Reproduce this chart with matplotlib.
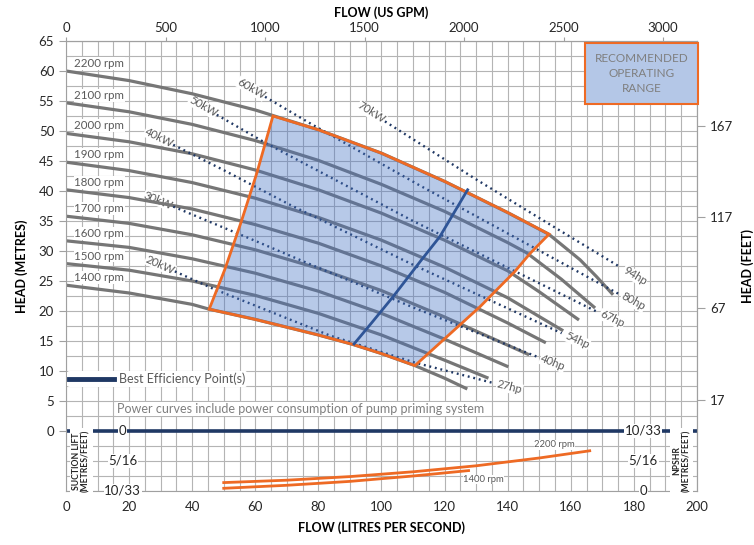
import matplotlib.pyplot as plt
import numpy as np
from matplotlib.lines import Line2D

plt.rcParams['font.family'] = ['Lato', 'DejaVu Sans']

# pump curves: flow (l/s) against head (m), one pair per speed
rpm_labels = ['2200 rpm', '2100 rpm', '2000 rpm', '1900 rpm', '1800 rpm',
              '1700 rpm', '1600 rpm', '1500 rpm', '1400 rpm']
q_2200 = [0, 20, 40, 60, 80, 100, 120, 140, 153, 160, 163, 168.2, 173.4]
h_2200 = [60.0, 58.4, 56.2, 53.5, 50.2, 46.3, 41.6, 36.4, 32.8, 29.8, 28.5, 25.7, 22.7]
q_2100 = [0, 20, 40, 60, 80, 100, 120, 140, 146, 157, 167.7]
h_2100 = [54.7, 53.2, 51.1, 48.4, 45.1, 41.1, 36.6, 31.4, 29.7, 25.3, 20.5]
q_2000 = [0, 20, 40, 60, 80, 100, 120, 140, 150, 162.6]
h_2000 = [49.6, 48.2, 46.2, 43.5, 40.2, 36.3, 31.8, 26.7, 23.2, 18.5]
q_1900 = [0, 20, 40, 60, 80, 100, 120, 140, 157.6]
h_1900 = [44.8, 43.4, 41.4, 38.8, 35.6, 31.8, 27.3, 22.2, 16.7]
q_1800 = [0, 20, 40, 60, 80, 100, 120, 140, 152.1]
h_1800 = [40.2, 38.9, 37.0, 34.4, 31.3, 27.5, 23.1, 18.0, 14.7]
q_1700 = [0, 20, 40, 60, 80, 100, 120, 140, 146.8]
h_1700 = [35.8, 34.6, 32.7, 30.2, 27.1, 23.4, 19.0, 14.3, 12.7]
q_1600 = [0, 20, 40, 60, 80, 100, 120, 140.2]
h_1600 = [31.7, 30.6, 28.7, 26.3, 23.3, 19.6, 15.3, 10.7]
q_1500 = [0, 20, 40, 60, 80, 100, 120, 133.9]
h_1500 = [27.9, 26.8, 25.0, 22.6, 19.6, 16.0, 11.8, 8.8]
q_1400 = [0, 20, 40, 45.4, 60, 80, 91.1, 100, 110.6, 120, 127.2]
h_1400 = [24.3, 23.0, 21.1, 20.3, 18.6, 16.0, 14.4, 12.9, 10.9, 8.8, 7.0]

pump_q = [q_2200, q_2100, q_2000, q_1900, q_1800, q_1700, q_1600, q_1500, q_1400]
pump_h = [h_2200, h_2100, h_2000, h_1900, h_1800, h_1700, h_1600, h_1500, h_1400]

# recommended operating range outline
range_q = [65.6, 80, 100, 120, 140, 153.1, 147.1, 142.3, 131.2, 120.7, 110.6,
           100, 91.1, 80, 60, 45.4, 50.4, 55.5, 60.5]
range_h = [52.5, 50.2, 46.3, 41.6, 36.4, 32.8, 29.6, 26.6, 20.7, 15.7, 10.9,
           12.9, 14.4, 16.0, 18.6, 20.3, 27.0, 34.8, 43.0]

# best efficiency points
bep_q = [91.3, 97.0, 103.7, 112.2, 118.5, 127.3]
bep_h = [14.5, 18.1, 22.4, 28.2, 32.4, 40.2]

# constant power lines
kw_labels = ['20kW', '30kW', '40kW', '50kW', '60kW', '70kW']
hp_labels = ['27hp', '40hp', '54hp', '67hp', '80hp', '94hp']
p20_q = [34.5, 46.7, 83.7, 110.6, 135.4]
p20_h = [26.6, 23.7, 15.9, 11.4, 8.0]
p30_q = [34.0, 60.4, 74.2, 110, 149.2]
p30_h = [37.4, 31.6, 28.5, 20.6, 12.4]
p40_q = [34.0, 49.9, 71, 110, 157.1]
p40_h = [47.7, 43.5, 37.7, 27.7, 16.3]
p50_q = [47.8, 63.6, 110, 168.2]
p50_h = [52.7, 47.9, 35.0, 19.9]
p60_q = [63.1, 77.3, 112.2, 145, 175.0]
p60_h = [55.7, 51.3, 40.9, 31.5, 22.9]
p70_q = [101.1, 130.1, 150, 175.7]
p70_h = [51.6, 41.9, 35.5, 27.3]
power_q = [p20_q, p30_q, p40_q, p50_q, p60_q, p70_q]
power_h = [p20_h, p30_h, p40_h, p50_h, p60_h, p70_h]

# NPSHR (m)
npsh_labels = ['2200 rpm', '1400 rpm']
npsh_q_2200 = [50, 70, 90, 110, 130, 150, 166]
npsh_2200 = [1.4, 1.8, 2.4, 3.2, 4.2, 5.5, 6.7]
npsh_q_1400 = [50, 70, 90, 110, 127.6]
npsh_1400 = [0.45, 0.95, 1.6, 2.5, 3.4]

lift_ticks = ['0', '5/16', '10/33']
npsh_ticks = ['10/33', '5/16', '0']

GRAY = '#767676'
NAVY = '#203864'
ORANGE = '#EE6A24'
TXT = '#595959'
LOWER = -10  # bottom of the suction/NPSHR band, NPSHR zero

fig = plt.figure(figsize=(7.54, 5.45), dpi=100)
ax = fig.add_axes([0.0875, 0.0991, 0.8369, 0.8257])
ax.set_xlim(0, 200)
ax.set_ylim(LOWER, 65)
ax.set_xticks(np.arange(0, 201, 20))
ax.set_xticks(np.arange(0, 201, 5), minor=True)
ax.set_yticks(np.arange(0, 66, 5))
ax.set_yticks(np.arange(-10, 65.1, 2.5), minor=True)
ax.grid(which='both', color='#B4B4B4', lw=0.8)
ax.set_axisbelow(True)
ax.tick_params(which='minor', length=0)
ax.tick_params(axis='x', length=0, pad=7, labelsize=9.5, colors='#262626')
ax.tick_params(axis='y', length=5, labelsize=9.5, colors='#262626', color='#A0A0A0')
for sp in ax.spines.values():
	sp.set_color('#A0A0A0')
ax.set_xlabel('FLOW (LITRES PER SECOND)', fontweight='bold', fontsize=9, labelpad=6)
ax.set_ylabel('HEAD (METRES)', fontweight='bold', fontsize=9, labelpad=8)

top = ax.secondary_xaxis('top', functions=(lambda q: q * 15.8503, lambda g: g / 15.8503))
top.set_xticks(np.arange(0, 3001, 500))
top.tick_params(length=3, labelsize=9.5, colors='#262626', color='#A0A0A0', pad=2)
top.set_xlabel('FLOW (US GPM)', fontweight='bold', fontsize=9, labelpad=4)
top.spines['top'].set_color('#A0A0A0')

right = ax.secondary_yaxis('right', functions=(lambda m: m * 3.28084, lambda f: f / 3.28084))
right.set_yticks([17, 67, 117, 167])
right.tick_params(length=6, labelsize=9.5, colors='#262626', color='#A0A0A0')
right.set_ylabel('HEAD (FEET)', fontweight='bold', fontsize=9, labelpad=6)
right.spines['right'].set_color('#A0A0A0')


def angle(q, h, i, j):
	p0 = ax.transData.transform((q[i], h[i]))
	p1 = ax.transData.transform((q[j], h[j]))
	d = p1 - p0
	return np.degrees(np.arctan2(d[1], d[0])), d / np.hypot(*d)


# pump curves + speed labels
for lab, q, h in zip(rpm_labels, pump_q, pump_h):
	ax.plot(q, h, color=GRAY, lw=2.3, zorder=2, solid_capstyle='butt')
	ax.annotate(lab, xy=(q[0], h[0]), xytext=(6, 1.5), textcoords='offset points',
				ha='left', va='bottom', fontsize=8.3, color=TXT, zorder=1.5,
				bbox=dict(fc='white', ec='none', pad=0.6))

# power lines with kW / hp labels
for kw, hp, q, h in zip(kw_labels, hp_labels, power_q, power_h):
	ax.plot(q, h, color=NAVY, lw=1.7, ls=(0, (0.8, 1.6)), zorder=2.2)
	ang, u = angle(q, h, 0, 1)
	ax.annotate(kw, xy=(q[0], h[0]), xytext=(-16 * u[0], -16 * u[1]),
				textcoords='offset pixels', rotation=ang, rotation_mode='anchor',
				ha='center', va='center', fontsize=8.2, color=TXT, zorder=1.5,
				bbox=dict(fc='white', ec='none', pad=0.3))
	ang, u = angle(q, h, -2, -1)
	ax.annotate(hp, xy=(q[-1], h[-1]), xytext=(17 * u[0], 17 * u[1]),
				textcoords='offset pixels', rotation=ang, rotation_mode='anchor',
				ha='center', va='center', fontsize=8.2, color=TXT, zorder=1.5,
				bbox=dict(fc='white', ec='none', pad=0.3))

# operating range
ax.fill(range_q, range_h, color='#4472C4', alpha=0.38, lw=0, zorder=3)
ax.fill(range_q, range_h, fc='none', ec=ORANGE, lw=2.0, zorder=4, joinstyle='miter')
ax.plot(bep_q, bep_h, color='#2F5597', lw=2.0, zorder=5)

ax.text(0.912, 0.928, 'RECOMMENDED\nOPERATING\nRANGE', transform=ax.transAxes,
		ha='center', va='center', fontsize=8.5, color='#7F7F7F', linespacing=1.45,
		zorder=6, bbox=dict(boxstyle='square,pad=0.85', fc='#B4C7E7', ec=ORANGE, lw=1.5))

leg = ax.legend(handles=[Line2D([], [], color='#1F3864', lw=3.5)],
				labels=['Best Efficiency Point(s)'], loc='center left',
				bbox_to_anchor=(0.0, 0.249), frameon=True, fontsize=9,
				handlelength=3.6, handletextpad=0.4, borderpad=0.15,
				borderaxespad=0.1, facecolor='white', edgecolor='none', framealpha=1)
for t in leg.get_texts():
	t.set_color(TXT)
ax.text(0.081, 0.182, 'Power curves include power consumption of pump priming system',
		transform=ax.transAxes, ha='left', va='center', fontsize=9, color='#7F7F7F',
		zorder=6, bbox=dict(fc='white', ec='none', pad=0.5))

# suction lift / NPSHR band
ax.axhline(0, color='#1F3864', lw=2.6, zorder=2)
for lab, y in zip(lift_ticks, [0, -5, LOWER]):
	ax.text(18.0, y, lab, ha='center', va='center', fontsize=9.5, color='#262626',
			zorder=6, clip_on=False, bbox=dict(fc='white', ec='none', pad=0.4))
for lab, y in zip(npsh_ticks, [0, -5, LOWER]):
	ax.text(183.0, y, lab, ha='center', va='center', fontsize=9.5, color='#262626',
			zorder=6, clip_on=False, bbox=dict(fc='white', ec='none', pad=0.4))
ax.text(4.8, -5, 'SUCTION LIFT\n(METRES/FEET)', rotation=90, ha='center', va='center',
		fontsize=6.2, fontweight='bold', color='#262626', linespacing=1.1, zorder=6,
		bbox=dict(fc='white', ec='none', pad=1.5))
ax.text(195.2, -5, 'NPSHR\n(METRES/FEET)', rotation=90, ha='center', va='center',
		fontsize=6.2, fontweight='bold', color='#262626', linespacing=1.1, zorder=6,
		bbox=dict(fc='white', ec='none', pad=1.5))

n22 = np.array(npsh_2200) + LOWER
n14 = np.array(npsh_1400) + LOWER
ax.plot(npsh_q_2200, n22, color=ORANGE, lw=2.0, zorder=4)
ax.plot(npsh_q_1400, n14, color=ORANGE, lw=2.0, zorder=4)
ax.annotate(npsh_labels[0], xy=(npsh_q_2200[-1], n22[-1]), xytext=(-35, 6),
			textcoords='offset pixels', ha='center', va='center', fontsize=6.8,
			color=TXT, zorder=3, bbox=dict(fc='white', ec='none', pad=0.3))
ax.annotate(npsh_labels[1], xy=(npsh_q_1400[-1], n14[-1]), xytext=(15, -9),
			textcoords='offset pixels', ha='center', va='center', fontsize=6.8,
			color=TXT, zorder=3, bbox=dict(fc='white', ec='none', pad=0.3))

fig.savefig('out.png', dpi=100)
